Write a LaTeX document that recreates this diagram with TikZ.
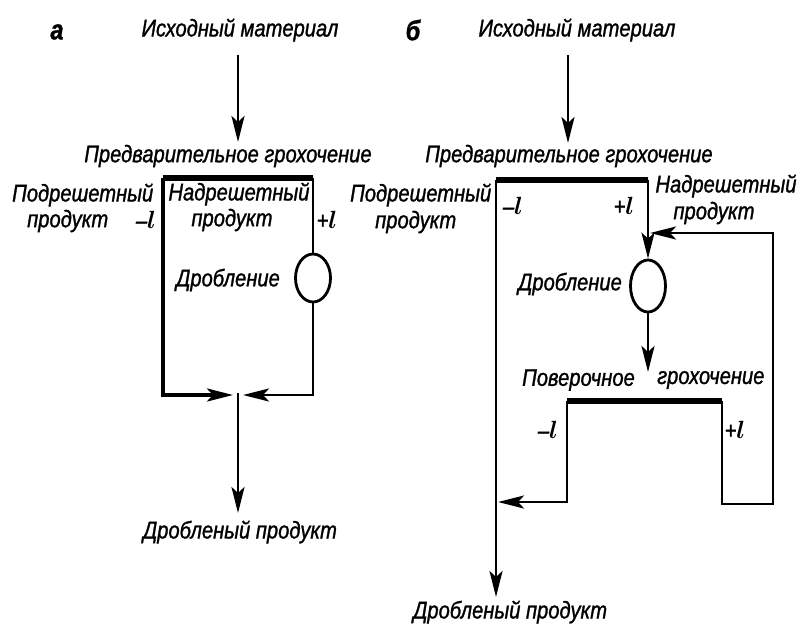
\documentclass[tikz,border=0pt]{standalone}
\usepackage{fontspec}
\usepackage{bm}
\setmainfont{Liberation Sans}[FakeStretch=0.84,FakeBold=1.2]
\usetikzlibrary{arrows.meta,shapes.geometric}
\tikzset{
  lbl/.style={font=\fontsize{24}{28}\selectfont\itshape, inner sep=0pt},
  tag/.style={font=\fontsize{28}{32}\selectfont\bfseries\itshape, inner sep=0pt},
  ln/.style={line width=2.8pt},
  scr/.style={line width=6pt},
  arr/.style={ln, -{Stealth[length=26pt,width=13pt,inset=6pt]}},
  crusher/.style={ln, draw, ellipse, minimum width=35pt, minimum height=48pt, inner sep=0pt},
}
\newcommand{\elr}{$\bm{l}$}
\begin{document}
\begin{tikzpicture}[x=1pt,y=-1pt]
\useasboundingbox (0,0) rectangle (797,629);
% ---------------- panel a ----------------
\node[tag] (a-tag) at (57,32) {а};
\node[lbl] (a-in) at (240,30) {Исходный материал};
\node[lbl] (a-pre) at (228,156) {Предварительное грохочение};
\node[lbl, anchor=west] (a-under1) at (12,195) {Подрешетный};
\node[lbl, anchor=west] (a-under2) at (27,221) {продукт};
\node[lbl] (a-minus) at (146,220) {–\elr};
\node[lbl] (a-over1) at (239,194) {Надрешетный};
\node[lbl] (a-over2) at (232,220) {продукт};
\node[lbl] (a-plus) at (327,220) {+\elr};
\node[lbl] (a-crtxt) at (228,280) {Дробление};
\node[lbl] (a-out) at (240,532) {Дробленый продукт};
\node[crusher] (a-cr) at (313,278) {};
\coordinate (a-s1) at (238,55);
\coordinate (a-s2) at (238,142);
\coordinate (a-tl) at (163,178);
\coordinate (a-tr) at (313,178);
\coordinate (a-bl) at (163,395);
\coordinate (a-br) at (313,395);
\coordinate (a-j) at (238,393);
\coordinate (a-jl) at (233,395);
\coordinate (a-jr) at (243,395);
\coordinate (a-e) at (238,513);
\draw[arr] (a-s1) -- (a-s2);
\draw[arr, line width=3.4pt] (a-tl) -- (a-bl) -- (a-jl);
\draw[ln] (a-tr) -- (a-cr.north);
\draw[arr] (a-cr.south) -- (a-br) -- (a-jr);
\draw[arr] (a-j) -- (a-e);
\draw[scr] (a-tl) -- (a-tr);
% ---------------- panel b ----------------
\node[tag] (b-tag) at (413,30) {б};
\node[lbl] (b-in) at (577,30) {Исходный материал};
\node[lbl] (b-pre) at (569,156) {Предварительное грохочение};
\node[lbl, anchor=west] (b-under1) at (350,195) {Подрешетный};
\node[lbl, anchor=west] (b-under2) at (375,222) {продукт};
\node[lbl] (b-minus) at (513,206) {–\elr};
\node[lbl] (b-plus) at (624,206) {+\elr};
\node[lbl] (b-over1) at (726,186) {Надрешетный};
\node[lbl] (b-over2) at (714,213) {продукт};
\node[lbl] (b-crtxt) at (570,284) {Дробление};
\node[lbl, anchor=west] (b-ver1) at (522,380) {Поверочное};
\node[lbl, anchor=west] (b-ver2) at (657,380) {грохочение};
\node[lbl] (b-minus2) at (548,430) {–\elr};
\node[lbl] (b-plus2) at (735,430) {+\elr};
\node[lbl, anchor=west] (b-out) at (413,612) {Дробленый продукт};
\node[crusher, minimum height=52pt] (b-cr) at (648,286) {};
\coordinate (b-s1) at (568,55);
\coordinate (b-s2) at (568,143);
\coordinate (b-tl) at (496,180);
\coordinate (b-tr) at (648,180);
\coordinate (b-e) at (496,597);
\coordinate (b-d) at (648,372);
\coordinate (b-ptl) at (567,401);
\coordinate (b-ptr) at (722,401);
\coordinate (b-pbl) at (567,502);
\coordinate (b-pl) at (498,502);
\coordinate (b-pbr) at (722,504);
\coordinate (b-rr) at (773,504);
\coordinate (b-rt) at (773,233);
\coordinate (b-rin) at (650,233);
\draw[arr] (b-s1) -- (b-s2);
\draw[arr] (b-tl) -- (b-e);
\draw[arr] (b-tr) -- (b-cr.north);
\draw[arr] (b-cr.south) -- (b-d);
\draw[arr] (b-ptl) -- (b-pbl) -- (b-pl);
\draw[arr] (b-ptr) -- (b-pbr) -- (b-rr) -- (b-rt) -- (b-rin);
\draw[scr] (b-tl) -- (b-tr);
\draw[scr] (b-ptl) -- (b-ptr);
\end{tikzpicture}
\end{document}
